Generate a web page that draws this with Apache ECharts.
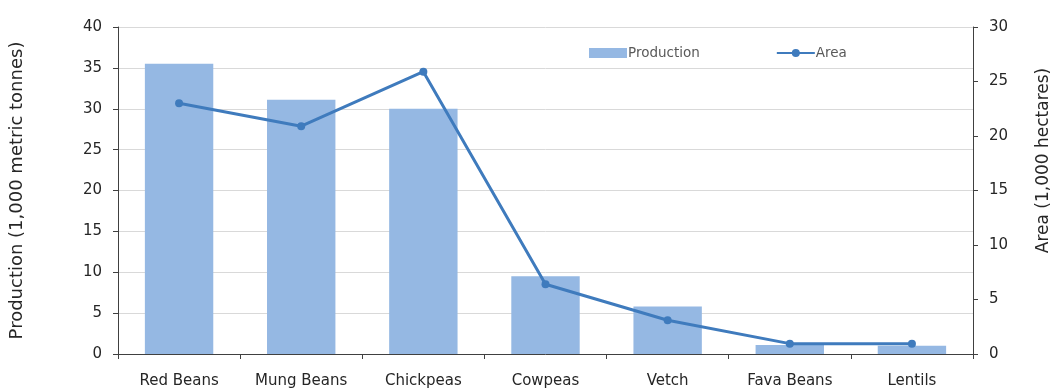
<!DOCTYPE html>
<html>
<head>
<meta charset="utf-8">
<script src="https://cdn.jsdelivr.net/npm/echarts@6/dist/echarts.min.js"></script>
<style>
  html, body { margin: 0; padding: 0; background: #fff; }
  #chart { width: 1056px; height: 392px; }
</style>
</head>
<body>
<div id="chart"></div>
<script>
var categories = ['Red Beans', 'Mung Beans', 'Chickpeas', 'Cowpeas', 'Vetch', 'Fava Beans', 'Lentils'];
var production = [35.5, 31.1, 30.0, 9.5, 5.8, 1.1, 1.0];
var area = [23.0, 20.9, 25.9, 6.4, 3.1, 0.95, 0.95];
var leftTicks = [0, 40, 5];   // min, max, interval
var rightTicks = [0, 30, 5];

var chart = echarts.init(document.getElementById('chart'));
var font = 'DejaVu Sans';
var axisColor = '#404040';

var option = {
  animation: false,
  textStyle: { fontFamily: font },
  grid: { left: 118, right: 83, top: 27, bottom: 38, outerBoundsMode: 'none', containLabel: false },
  legend: {
    top: 41,
    left: 584,
    itemGap: 76,
    itemWidth: 38,
    itemHeight: 10,
    textStyle: { fontSize: 13.5, color: '#595959', fontFamily: font, padding: [0, 0, 0, -4] },
    data: [
      { name: 'Production', icon: 'rect' },
      { name: 'Area' }
    ]
  },
  xAxis: {
    type: 'category',
    data: categories,
    axisLine: { lineStyle: { color: axisColor, width: 1 } },
    axisTick: { show: true, inside: false, length: 5, lineStyle: { color: axisColor } },
    axisLabel: { color: '#262626', fontSize: 15, margin: 20, interval: 0 }
  },
  yAxis: [
    {
      type: 'value',
      min: leftTicks[0], max: leftTicks[1], interval: leftTicks[2],
      name: 'Production (1,000 metric tonnes)',
      nameLocation: 'middle',
      nameRotate: 90,
      nameGap: 92,
      nameTextStyle: { fontSize: 18, color: '#262626' },
      axisLine: { show: true, lineStyle: { color: axisColor } },
      axisTick: { show: true, length: 5, lineStyle: { color: axisColor } },
      axisLabel: { color: '#262626', fontSize: 15, margin: 16 },
      splitLine: { lineStyle: { color: '#d9d9d9' } }
    },
    {
      type: 'value',
      min: rightTicks[0], max: rightTicks[1], interval: rightTicks[2],
      name: 'Area (1,000 hectares)',
      nameLocation: 'middle',
      nameRotate: 90,
      nameGap: 62,
      nameTextStyle: { fontSize: 17, color: '#262626', padding: [0, 0, 0, 60] },
      axisLine: { show: true, lineStyle: { color: axisColor } },
      axisTick: { show: true, length: 5, lineStyle: { color: axisColor } },
      axisLabel: { color: '#262626', fontSize: 15, margin: 16 },
      splitLine: { show: false }
    }
  ],
  series: [
    {
      name: 'Production',
      type: 'bar',
      data: production,
      barCategoryGap: '44%',
      itemStyle: { color: '#95b8e3' }
    },
    {
      name: 'Area',
      type: 'line',
      yAxisIndex: 1,
      data: area,
      symbol: 'circle',
      symbolSize: 8,
      lineStyle: { color: '#3f7bbd', width: 3 },
      itemStyle: { color: '#3f7bbd' }
    }
  ]
};

chart.setOption(option);
window.addEventListener('resize', function () {
  chart.resize();
});
</script>
</body>
</html>
